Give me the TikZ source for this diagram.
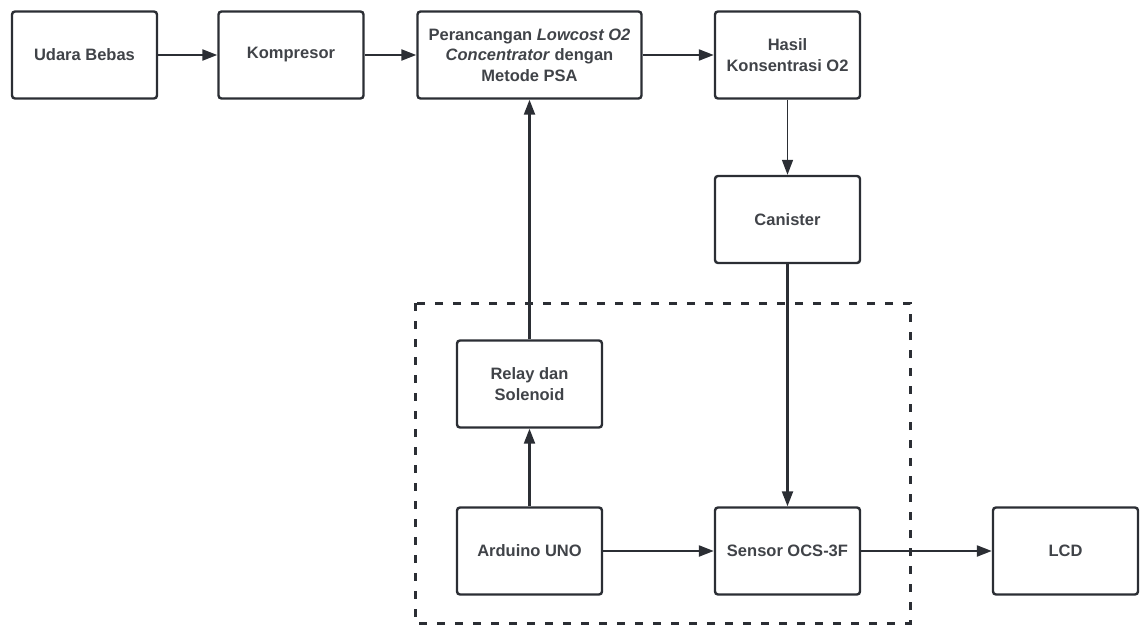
\documentclass[tikz,border=0pt]{standalone}
\usepackage{fontspec}
\setmainfont{Liberation Sans}
\usetikzlibrary{arrows.meta}
\definecolor{ink}{HTML}{2B2E34}
\begin{document}
\begin{tikzpicture}[x=1pt, y=-1pt,
    box/.style = {draw=ink, line width=2.4pt, rounded corners=3pt,
      minimum width=145pt, minimum height=87pt, align=center,
      text=ink!90, font=\bfseries\fontsize{16.5}{20.5}\selectfont},
    arr/.style = {draw=ink, line width=2.2pt,
      -{Triangle[length=15pt,width=11pt]}}]
    \useasboundingbox (0,0) rectangle (1141,626);
    % top row
    \node[box] (udara) at (84.5,55) {Udara Bebas};
    \node[box] (kompresor) at (291,55) {Kompresor};
    \node[box, minimum width=224pt] (psa) at (529.5,55)
      {Perancangan \textit{Lowcost O2}\\ \textit{Concentrator} dengan\\ Metode PSA};
    \node[box] (hasil) at (787.5,55) {Hasil\\ Konsentrasi O2};
    \node[box] (canister) at (787.5,219.5) {Canister};
    % control part
    \node[box] (relay) at (529.5,384) {Relay dan\\ Solenoid};
    \node[box] (arduino) at (529.5,551) {Arduino UNO};
    \node[box] (sensor) at (787.5,551) {Sensor OCS-3F};
    \node[box] (lcd) at (1065.5,551) {LCD};
    \draw[draw=ink, line width=3pt, dash pattern=on 8pt off 10pt]
      (415,303) rectangle (910,623);
    % arrows
    \draw[arr] (udara) -- (kompresor);
    \draw[arr] (kompresor) -- (psa);
    \draw[arr] (psa) -- (hasil);
    \draw[arr, line width=1.5pt] (hasil) -- (canister);
    \draw[arr] (canister) -- (sensor);
    \draw[arr] (relay) -- (psa);
    \draw[arr] (arduino) -- (relay);
    \draw[arr] (arduino) -- (sensor);
    \draw[arr] (sensor) -- (lcd);
\end{tikzpicture}
\end{document}
